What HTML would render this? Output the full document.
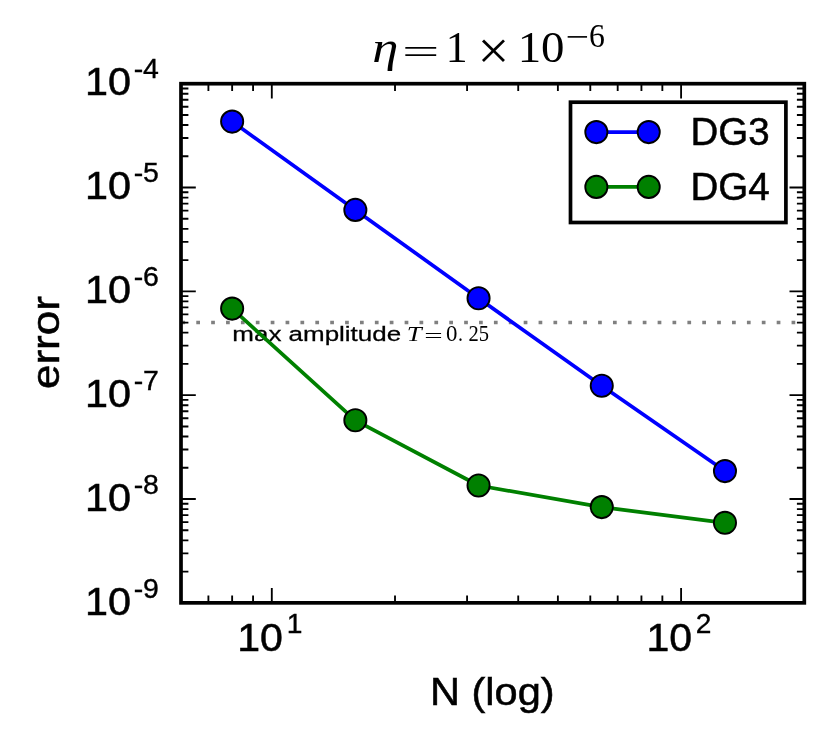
<!DOCTYPE html>
<html lang="en">
<head>
<meta charset="utf-8">
<title>DG convergence plot</title>
<style>
html,body{margin:0;padding:0;background:#ffffff;}
body{width:830px;height:741px;overflow:hidden;font-family:"Liberation Sans",sans-serif;}
svg{display:block;will-change:transform;}
text{white-space:pre;}
</style>
</head>
<body>
<svg width="830" height="741" viewBox="0 0 830 741" role="img" aria-label="Log-log convergence plot of error versus N for DG3 and DG4">
<rect x="0" y="0" width="830" height="741" fill="#ffffff"/>
<line x1="181.4" y1="322.5" x2="804.3" y2="322.5" stroke="#808080" stroke-width="3.7" stroke-dasharray="3.72 11.162"/>
<g fill="#000"><g font-family="Liberation Sans, sans-serif" stroke="#000"><text transform="translate(232.34 341) scale(1.2299 1)" font-size="21.11" stroke-width="0.27">max amplitude</text></g><g font-family="Liberation Serif, serif"><text transform="translate(406.86 341) scale(1.2243 1)" font-style="italic" font-size="21.83">T</text><text transform="translate(424.17 342) scale(1.6686 1)" font-size="19.59">=</text><text transform="translate(445.99 341) scale(1.0357 1)" font-size="22.07">0</text><text transform="translate(457.9 341) scale(0.9062 1)" font-size="22.07">.</text><text transform="translate(468.48 341) scale(0.931 1)" font-size="22.07">25</text></g></g>
<polyline points="232.14,121.6 355.35,209.9 478.55,298.3 601.76,385.7 724.97,471.1" fill="none" stroke="#0000ff" stroke-width="3.7" stroke-linejoin="round"/>
<circle cx="232.14" cy="121.6" r="11.1" fill="#0000ff" stroke="#000" stroke-width="1.85"/>
<circle cx="355.35" cy="209.9" r="11.1" fill="#0000ff" stroke="#000" stroke-width="1.85"/>
<circle cx="478.55" cy="298.3" r="11.1" fill="#0000ff" stroke="#000" stroke-width="1.85"/>
<circle cx="601.76" cy="385.7" r="11.1" fill="#0000ff" stroke="#000" stroke-width="1.85"/>
<circle cx="724.97" cy="471.1" r="11.1" fill="#0000ff" stroke="#000" stroke-width="1.85"/>
<polyline points="232.14,308.6 355.35,420.3 478.55,485.5 601.76,507.1 724.97,522.8" fill="none" stroke="#008000" stroke-width="3.7" stroke-linejoin="round"/>
<circle cx="232.14" cy="308.6" r="11.1" fill="#008000" stroke="#000" stroke-width="1.85"/>
<circle cx="355.35" cy="420.3" r="11.1" fill="#008000" stroke="#000" stroke-width="1.85"/>
<circle cx="478.55" cy="485.5" r="11.1" fill="#008000" stroke="#000" stroke-width="1.85"/>
<circle cx="601.76" cy="507.1" r="11.1" fill="#008000" stroke="#000" stroke-width="1.85"/>
<circle cx="724.97" cy="522.8" r="11.1" fill="#008000" stroke="#000" stroke-width="1.85"/>
<path d="M271.8 602.85V588.05M271.8 83.7V98.5M681.09 602.85V588.05M681.09 83.7V98.5M208.4 602.85V595.45M208.4 83.7V91.1M232.14 602.85V595.45M232.14 83.7V91.1M253.07 602.85V595.45M253.07 83.7V91.1M395.01 602.85V595.45M395.01 83.7V91.1M467.08 602.85V595.45M467.08 83.7V91.1M518.22 602.85V595.45M518.22 83.7V91.1M557.88 602.85V595.45M557.88 83.7V91.1M590.29 602.85V595.45M590.29 83.7V91.1M617.69 602.85V595.45M617.69 83.7V91.1M641.43 602.85V595.45M641.43 83.7V91.1M662.36 602.85V595.45M662.36 83.7V91.1M181 602.85H195.8M804.3 602.85H789.5M181 571.59H188.4M804.3 571.59H796.9M181 553.31H188.4M804.3 553.31H796.9M181 540.34H188.4M804.3 540.34H796.9M181 530.28H188.4M804.3 530.28H796.9M181 522.05H188.4M804.3 522.05H796.9M181 515.1H188.4M804.3 515.1H796.9M181 509.08H188.4M804.3 509.08H796.9M181 503.77H188.4M804.3 503.77H796.9M181 499.02H195.8M804.3 499.02H789.5M181 467.76H188.4M804.3 467.76H796.9M181 449.48H188.4M804.3 449.48H796.9M181 436.51H188.4M804.3 436.51H796.9M181 426.45H188.4M804.3 426.45H796.9M181 418.22H188.4M804.3 418.22H796.9M181 411.27H188.4M804.3 411.27H796.9M181 405.25H188.4M804.3 405.25H796.9M181 399.94H188.4M804.3 399.94H796.9M181 395.19H195.8M804.3 395.19H789.5M181 363.93H188.4M804.3 363.93H796.9M181 345.65H188.4M804.3 345.65H796.9M181 332.68H188.4M804.3 332.68H796.9M181 322.62H188.4M804.3 322.62H796.9M181 314.39H188.4M804.3 314.39H796.9M181 307.44H188.4M804.3 307.44H796.9M181 301.42H188.4M804.3 301.42H796.9M181 296.11H188.4M804.3 296.11H796.9M181 291.36H195.8M804.3 291.36H789.5M181 260.1H188.4M804.3 260.1H796.9M181 241.82H188.4M804.3 241.82H796.9M181 228.85H188.4M804.3 228.85H796.9M181 218.79H188.4M804.3 218.79H796.9M181 210.56H188.4M804.3 210.56H796.9M181 203.61H188.4M804.3 203.61H796.9M181 197.59H188.4M804.3 197.59H796.9M181 192.28H188.4M804.3 192.28H796.9M181 187.53H195.8M804.3 187.53H789.5M181 156.27H188.4M804.3 156.27H796.9M181 137.99H188.4M804.3 137.99H796.9M181 125.02H188.4M804.3 125.02H796.9M181 114.96H188.4M804.3 114.96H796.9M181 106.73H188.4M804.3 106.73H796.9M181 99.78H188.4M804.3 99.78H796.9M181 93.76H188.4M804.3 93.76H796.9M181 88.45H188.4M804.3 88.45H796.9M181 83.7H195.8M804.3 83.7H789.5" fill="none" stroke="#000" stroke-width="1.85"/>
<rect x="181" y="83.7" width="623.3" height="519.15" fill="none" stroke="#000" stroke-width="3.7"/>
<rect x="570.5" y="102.2" width="215.4" height="120.3" fill="#fff" stroke="#000" stroke-width="3.7"/>
<line x1="596.35" y1="132.1" x2="648.7" y2="132.1" stroke="#0000ff" stroke-width="3.7"/>
<circle cx="596.35" cy="132.1" r="11.1" fill="#0000ff" stroke="#000" stroke-width="1.85"/>
<circle cx="648.7" cy="132.1" r="11.1" fill="#0000ff" stroke="#000" stroke-width="1.85"/>
<line x1="596.35" y1="186.9" x2="648.7" y2="186.9" stroke="#008000" stroke-width="3.7"/>
<circle cx="596.35" cy="186.9" r="11.1" fill="#008000" stroke="#000" stroke-width="1.85"/>
<circle cx="648.7" cy="186.9" r="11.1" fill="#008000" stroke="#000" stroke-width="1.85"/>
<g font-family="Liberation Sans, sans-serif" fill="#000" stroke="#000">
<!-- y tick labels -->
<text transform="translate(85.0 95) scale(1.0574 1)" font-size="39.14" stroke-width="0.51">10<tspan x="46.02" dy="-17" font-size="26.9" stroke-width="0.35">-4</tspan></text>
<text transform="translate(85.0 199) scale(1.0574 1)" font-size="39.14" stroke-width="0.51">10<tspan x="46.02" dy="-17" font-size="26.9" stroke-width="0.35">-5</tspan></text>
<text transform="translate(85.0 303) scale(1.0574 1)" font-size="39.14" stroke-width="0.51">10<tspan x="46.02" dy="-17" font-size="26.9" stroke-width="0.35">-6</tspan></text>
<text transform="translate(85.0 407) scale(1.0574 1)" font-size="39.14" stroke-width="0.51">10<tspan x="46.02" dy="-17" font-size="26.9" stroke-width="0.35">-7</tspan></text>
<text transform="translate(85.0 511) scale(1.0574 1)" font-size="39.14" stroke-width="0.51">10<tspan x="46.02" dy="-17" font-size="26.9" stroke-width="0.35">-8</tspan></text>
<text transform="translate(85.0 615) scale(1.0574 1)" font-size="39.14" stroke-width="0.51">10<tspan x="46.02" dy="-17" font-size="26.9" stroke-width="0.35">-9</tspan></text>
<!-- x tick labels -->
<text transform="translate(237.22 651) scale(1.0498 1)" font-size="39.14" stroke-width="0.51">10<tspan x="47.13" dy="-18" font-size="26.9" stroke-width="0.35">1</tspan></text>
<text transform="translate(646.43 651) scale(1.0473 1)" font-size="39.14" stroke-width="0.51">10<tspan x="47.0" dy="-18" font-size="26.9" stroke-width="0.35">2</tspan></text>
<!-- axis labels and legend labels -->
<text transform="translate(429.98 705) scale(1.0899 1)" font-size="38.14" stroke-width="0.5">N (log)</text>
<text transform="translate(59 387.5) rotate(-90) translate(-1.54 0) scale(1.1362 1)" font-size="38.7" stroke-width="0.5">error</text>
<text transform="translate(690.41 145) scale(1.0134 1)" font-size="38.0" stroke-width="0.49">DG3</text>
<text transform="translate(690.41 200) scale(1.015 1)" font-size="38.0" stroke-width="0.49">DG4</text>
</g>
<g font-family="Liberation Serif, serif" fill="#000">
<text transform="translate(372.26 62) scale(1.1897 1)" font-style="italic" font-size="44.23">η</text>
<text transform="translate(402.08 64) scale(1.8932 1)" font-size="35.1">=</text>
<text transform="translate(445.67 62) scale(0.9714 1)" font-size="45.0">1</text>
<text transform="translate(477.58 69) scale(1.0457 1)" font-size="54.07">×</text>
<text transform="translate(517.68 62) scale(1.0421 1)" font-size="45.0">10</text>
<text transform="translate(565.71 48) scale(1.248 1)" font-size="33.43">−</text>
<text transform="translate(589.07 47) scale(0.9502 1)" font-size="33.43">6</text>
</g>
</svg>
</body>
</html>
